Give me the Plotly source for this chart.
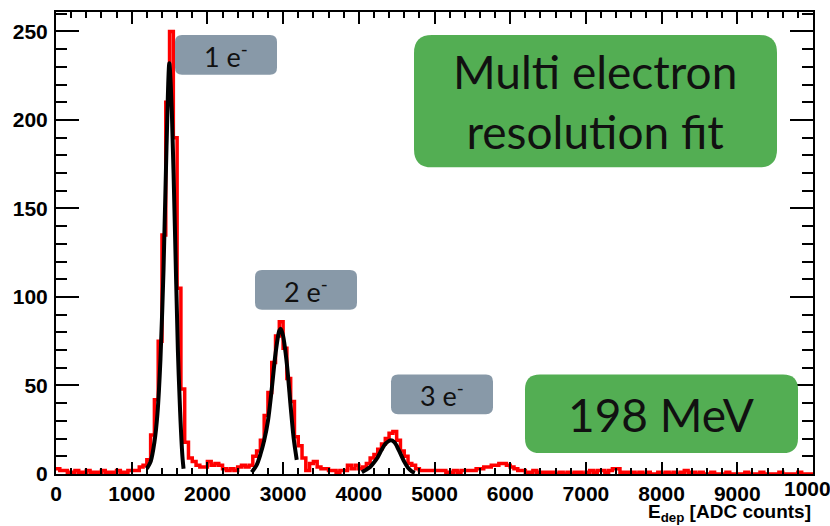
import plotly.graph_objects as go

# Energy deposit histogram: 200 bins of 50 ADC counts from 0 to 10000
bin_width = 50
counts = [
    # 0 - 950
    3, 2, 2, 1, 1, 2, 1, 1, 2, 1, 1, 1, 2, 1, 1, 1, 2, 1, 1, 2,
    # 1000 - 1950
    2, 2, 4, 5, 8, 22, 42, 75, 135, 210, 250, 190, 105, 48, 18, 9, 7, 5, 4, 4,
    # 2000 - 2950
    7, 5, 6, 5, 3, 2, 3, 2, 4, 5, 4, 5, 10, 13, 19, 33, 46, 63, 78, 86,
    # 3000 - 3950
    71, 54, 41, 21, 16, 9, 2, 6, 7, 4, 3, 3, 2, 2, 1, 2, 2, 5, 3, 5,
    # 4000 - 4950
    3, 4, 6, 9, 11, 14, 17, 20, 23, 24, 19, 13, 10, 6, 5, 3, 2, 2, 2, 2,
    # 5000 - 5950
    2, 2, 2, 1, 1, 2, 1, 2, 2, 2, 2, 3, 3, 4, 4, 5, 5, 6, 6, 5,
    # 6000 - 6950
    4, 3, 2, 2, 1, 1, 2, 1, 1, 1, 1, 1, 0, 1, 0, 1, 0, 1, 1, 0,
    # 7000 - 7950
    1, 2, 1, 2, 2, 1, 2, 3, 3, 1, 1, 1, 1, 0, 1, 0, 1, 0, 0, 1,
    # 8000 - 8950
    0, 1, 0, 1, 0, 1, 2, 1, 1, 0, 1, 0, 0, 1, 0, 0, 0, 1, 0, 0,
    # 9000 - 9950
    0, 0, 1, 0, 0, 0, 1, 0, 0, 0, 0, 1, 0, 0, 0, 0, 1, 0, 0, 0,
]

# Fitted multi-electron response, one segment per peak
fit1_x = [1200, 1250, 1300, 1340, 1380, 1420, 1460, 1497, 1530, 1570, 1610, 1640, 1670, 1685]
fit1_y = [3, 7, 18, 34, 65, 115, 185, 232, 205, 140, 70, 35, 10, 3]
fit2_x = [2585, 2650, 2700, 2750, 2800, 2850, 2900, 2950, 2970, 3000, 3050, 3100, 3140, 3180]
fit2_y = [1, 5, 11, 19, 30, 48, 68, 81, 82, 78, 62, 38, 20, 8]
fit3_x = [4040, 4100, 4150, 4200, 4250, 4300, 4350, 4420, 4470, 4500, 4550, 4600, 4650, 4700, 4740]
fit3_y = [1, 2.5, 4, 6.5, 9.5, 13.5, 17, 19, 18, 16, 11.5, 7, 3.5, 1.5, 0.7]

x_ticks = [0, 1000, 2000, 3000, 4000, 5000, 6000, 7000, 8000, 9000, 10000]
y_ticks = [0, 50, 100, 150, 200, 250]

peak_labels = ["1 e<sup>-</sup>", "2 e<sup>-</sup>", "3 e<sup>-</sup>"]
title_text = "Multi electron<br>resolution fit"
energy_text = "198 MeV"
x_title = "E<sub>dep</sub> [ADC counts]"

W, H = 830, 526
L, R, T, B = 56, 17, 10, 52
PW, PH = W - L - R, H - T - B


def px(x):
    return (x - L) / PW


def py(y):
    return (H - B - y) / PH


def rounded_box(x0, y0, x1, y1, r=10):
    """Rounded rectangle path in paper coords from pixel bounds."""
    rx, ry = r / PW, r / PH
    a, b = px(x0), px(x1)
    top, bot = py(y0), py(y1)
    return (f"M {a+rx},{top} L {b-rx},{top} Q {b},{top} {b},{top-ry} "
            f"L {b},{bot+ry} Q {b},{bot} {b-rx},{bot} L {a+rx},{bot} "
            f"Q {a},{bot} {a},{bot+ry} L {a},{top-ry} Q {a},{top} {a+rx},{top} Z")


edges = [i * bin_width for i in range(len(counts) + 1)]
hx = edges
hy = counts + [counts[-1]]

fig = go.Figure()
fig.add_trace(go.Scatter(x=hx, y=hy, mode="lines", line=dict(color="#ff0000", width=3.5, shape="hv"),
                         hoverinfo="skip", showlegend=False))
for fx, fy in [(fit1_x, fit1_y), (fit2_x, fit2_y), (fit3_x, fit3_y)]:
    fig.add_trace(go.Scatter(x=fx, y=fy, mode="lines",
                             line=dict(color="#000000", width=4, shape="spline", smoothing=0.8),
                             hoverinfo="skip", showlegend=False))

shapes = []
annotations = []
gray = "#8899a8"
green = "#53ae53"
label_boxes = [(175, 33, 277, 73), (255, 269, 357, 309), (391, 374, 493, 414)]
for (x0, y0, x1, y1), txt in zip(label_boxes, peak_labels):
    shapes.append(dict(type="path", path=rounded_box(x0, y0, x1, y1, 7), xref="paper", yref="paper",
                       fillcolor=gray, line=dict(width=0), layer="above"))
    annotations.append(dict(x=px((x0 + x1) / 2), y=py((y0 + y1) / 2), xref="paper", yref="paper",
                            text=txt, showarrow=False, xanchor="center", yanchor="middle",
                            font=dict(family="Lato", size=27, color="#111111")))

shapes.append(dict(type="path", path=rounded_box(414, 33, 777, 166, 18), xref="paper", yref="paper",
                   fillcolor=green, line=dict(width=0), layer="above"))
annotations.append(dict(x=px(595), y=py(100), xref="paper", yref="paper", text=title_text,
                        showarrow=False, xanchor="center", yanchor="middle",
                        font=dict(family="Lato", size=46, color="#111111")))
shapes.append(dict(type="path", path=rounded_box(525, 374, 798, 453, 15), xref="paper", yref="paper",
                   fillcolor=green, line=dict(width=0), layer="above"))
annotations.append(dict(x=px(661), y=py(414), xref="paper", yref="paper", text=energy_text,
                        showarrow=False, xanchor="center", yanchor="middle",
                        font=dict(family="Lato", size=46, color="#111111")))
annotations.append(dict(x=1.0, y=py(513), xref="paper", yref="paper", text=x_title,
                        showarrow=False, xanchor="right", yanchor="middle",
                        font=dict(family="Liberation Sans", size=19, color="#000000", weight="bold")))

tick_font = dict(family="Liberation Sans", size=21, color="#000000", weight="bold")

# The last x tick label runs past the page edge; draw it as text so it is kept (and cropped)
annotations.append(dict(x=x_ticks[-1], y=py(489), xref="x", yref="paper", text=str(x_ticks[-1]),
                        showarrow=False, xanchor="center", yanchor="middle", font=tick_font))

fig.update_layout(
    width=W, height=H,
    margin=dict(l=L, r=R, t=T, b=B),
    paper_bgcolor="white", plot_bgcolor="white",
    shapes=shapes, annotations=annotations,
    xaxis=dict(range=[0, 10000], tickmode="array", tickvals=x_ticks[:-1],
               ticktext=[str(v) for v in x_ticks[:-1]],
               ticks="inside", ticklen=12, tickwidth=2, tickcolor="black",
               minor=dict(tickmode="linear", tick0=0, dtick=200, ticks="inside", ticklen=6,
                          tickwidth=2, tickcolor="black"),
               showline=True, linewidth=2, linecolor="black", mirror="allticks",
               showgrid=False, zeroline=False, tickfont=tick_font, ticklabelstandoff=0),
    yaxis=dict(range=[0, 261], tickmode="array", tickvals=y_ticks,
               ticktext=[str(v) for v in y_ticks],
               ticks="inside", ticklen=23, tickwidth=2, tickcolor="black",
               minor=dict(tickmode="linear", tick0=0, dtick=10, ticks="inside", ticklen=11,
                          tickwidth=2, tickcolor="black"),
               showline=True, linewidth=2, linecolor="black", mirror="allticks",
               showgrid=False, zeroline=False, tickfont=tick_font, ticklabelstandoff=2),
)

fig.write_html("out.html")
